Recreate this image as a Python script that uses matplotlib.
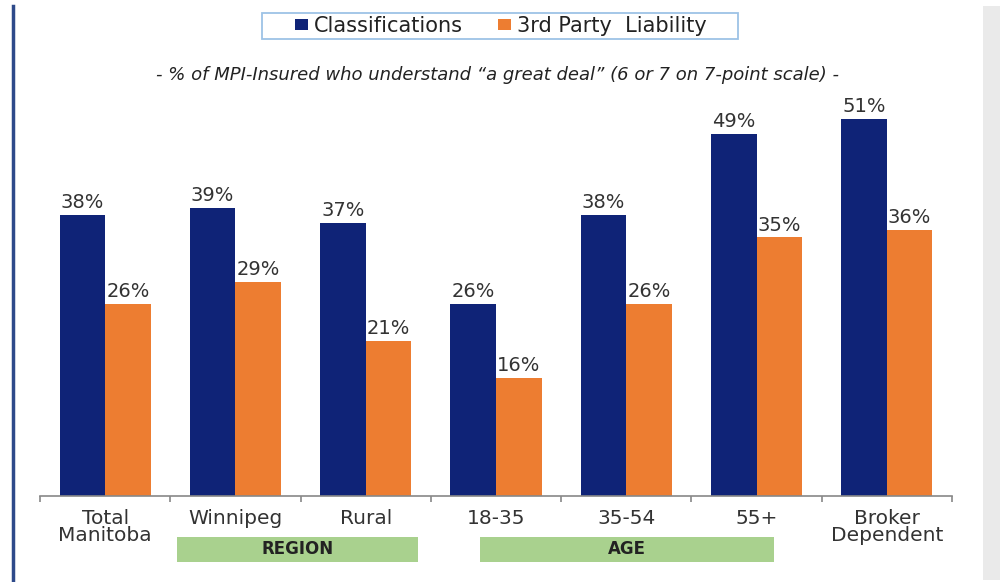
import matplotlib
matplotlib.use("Agg")
import matplotlib.pyplot as plt
from matplotlib.patches import Rectangle
from matplotlib.lines import Line2D
import numpy as np

plt.rcParams['font.family'] = ['DejaVu Sans']

categories = ["Total\nManitoba", "Winnipeg", "Rural", "18-35", "35-54", "55+", "Broker\nDependent"]
classifications = [38, 39, 37, 26, 38, 49, 51]
third_party = [26, 29, 21, 16, 26, 35, 36]
series_names = ["Classifications", "3rd Party  Liability"]
subtitle = "- % of MPI-Insured who understand \u201ca great deal\u201d (6 or 7 on 7-point scale) -"
group_names = ["REGION", "AGE"]

navy = "#0F2377"
orange = "#ED7D31"
text_col = "#333333"

W, H = 1000, 582
fig = plt.figure(figsize=(W / 100, H / 100), dpi=100)
fig.patch.set_facecolor("white")


def fx(px):
    return px / W


def fy(py):
    return (H - py) / H


# plot area in pixel terms
ax_left, ax_right = 40, 952
ax_base, ax_top = 496, 89.5
ax = fig.add_axes([fx(ax_left), fy(ax_base), (ax_right - ax_left) / W, (ax_base - ax_top) / H])

x = np.arange(len(categories))
bw = 0.35
b1 = ax.bar(x - bw / 2, classifications, bw, color=navy, label=series_names[0])
b2 = ax.bar(x + bw / 2, third_party, bw, color=orange, label=series_names[1])

for bars, vals in ((b1, classifications), (b2, third_party)):
    for rect, v in zip(bars, vals):
        ax.annotate(f"{v}%", (rect.get_x() + rect.get_width() / 2, v),
                    xytext=(0, 2), textcoords="offset points",
                    ha="center", va="bottom", fontsize=14, color=text_col)

ax.set_xlim(-0.5, len(categories) - 0.5)
ax.set_ylim(0, 55)
ax.set_yticks([])
for s in ("top", "right", "left"):
    ax.spines[s].set_visible(False)
ax.spines["bottom"].set_color("#888888")
ax.spines["bottom"].set_linewidth(1.2)
ax.set_xticks(np.arange(len(categories) + 1) - 0.5)
ax.set_xticklabels([])
ax.tick_params(axis="x", direction="out", length=4, color="#888888", width=1.2)
for i, c in enumerate(categories):
    ax.annotate(c, (i, 0), xytext=(0, -9), textcoords="offset points",
                ha="center", va="top", fontsize=14.5, color=text_col,
                linespacing=0.9, annotation_clip=False)

# group bands below the category labels
band_spans = [(177, 418), (480, 774)]
for name, (px0, px1) in zip(group_names, band_spans):
    fig.patches.append(Rectangle((fx(px0), fy(562)), (px1 - px0) / W, 25 / H,
                                 transform=fig.transFigure, facecolor="#A9D18E",
                                 edgecolor="none"))
    fig.text(fx((px0 + px1) / 2), fy(549.5), name, ha="center", va="center",
             fontsize=12, fontweight="bold", color="#222222")

# legend inside a light blue box
fig.patches.append(Rectangle((fx(262), fy(38.5)), (738 - 262) / W, 25.5 / H,
                             transform=fig.transFigure, facecolor="white",
                             edgecolor="#9DC3E6", linewidth=1.3))
leg = fig.legend(handles=[b1, b2], labels=series_names, loc="center left",
                 bbox_to_anchor=(fx(295), fy(26)), ncol=2, frameon=False,
                 fontsize=15, handlelength=0.6, handleheight=0.45, handletextpad=0.3,
                 columnspacing=1.7, borderpad=0, borderaxespad=0)
for t in leg.get_texts():
    t.set_color("#222222")

fig.text(fx(497), fy(75), subtitle, ha="center", va="center",
         fontsize=13, style="italic", color="#222222")

# left accent rule and right side panel
fig.add_artist(Line2D([fx(12.5), fx(12.5)], [0, fy(6)], color="#2E4A8A", lw=2.5,
                      transform=fig.transFigure))
fig.patches.append(Rectangle((fx(983), fy(580)), 17 / W, 574 / H,
                             transform=fig.transFigure, facecolor="#EAEAEA",
                             edgecolor="none"))

fig.savefig("out.png", dpi=100)
